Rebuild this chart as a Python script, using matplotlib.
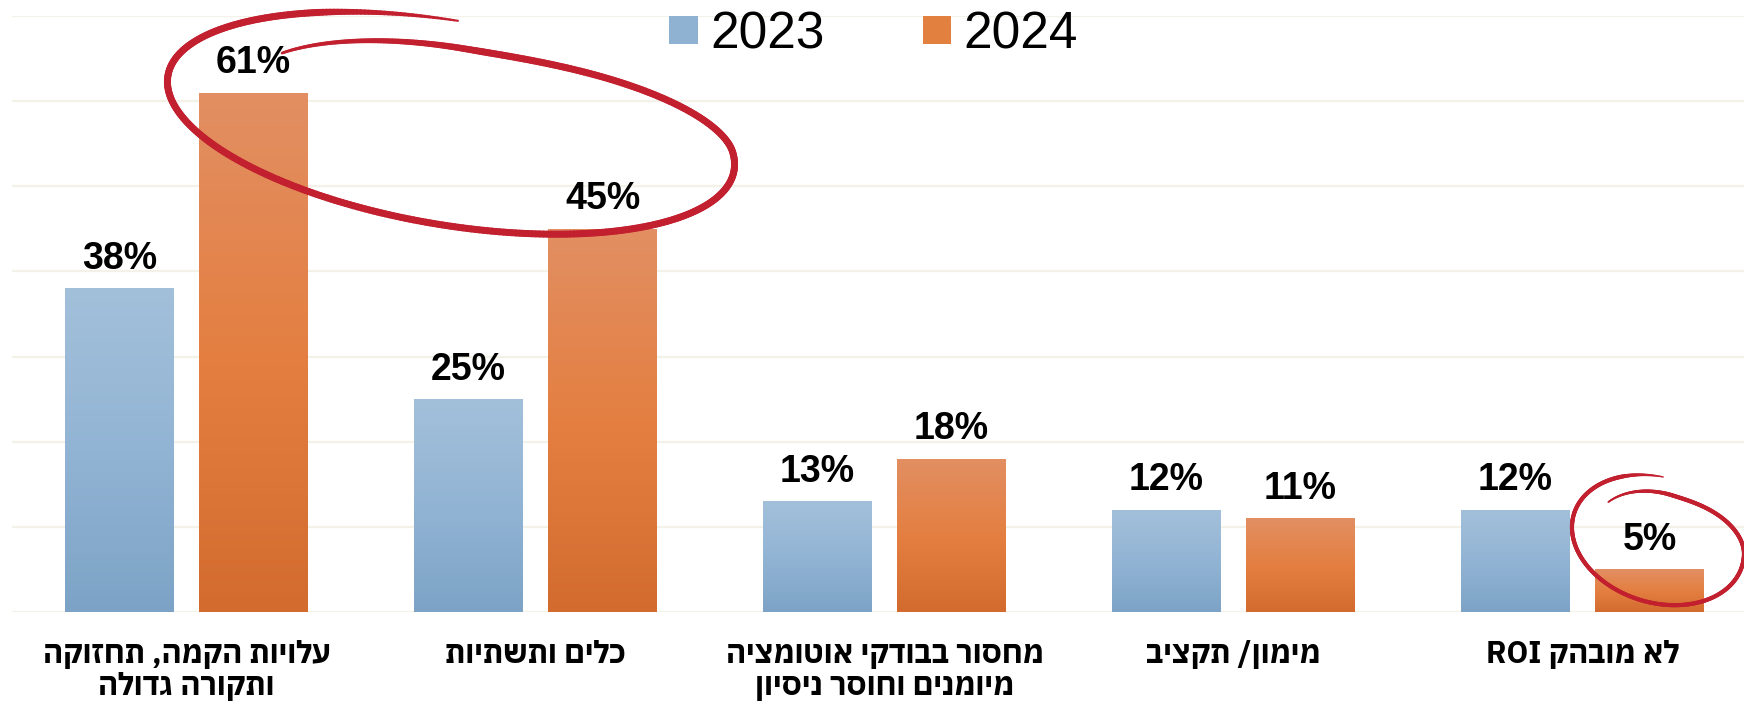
import re
import numpy as np
import matplotlib
matplotlib.use('Agg')
import matplotlib.pyplot as plt
from matplotlib.colors import LinearSegmentedColormap
from matplotlib.collections import LineCollection
from matplotlib.patches import Patch
from matplotlib.transforms import blended_transform_factory

# נתונים
categories = ['עלויות הקמה, תחזוקה\nותקורה גדולה',
              'כלים ותשתיות',
              'מחסור בבודקי אוטומציה\nמיומנים וחוסר ניסיון',
              'מימון/ תקציב',
              'לא מובהק ROI']
years = ['2023', '2024']
values_2023 = [38, 25, 13, 12, 12]
values_2024 = [61, 45, 18, 11, 5]

W, H = 1744, 706
FONT = ['Liberation Sans', 'DejaVu Sans']
HEB_FONT = ['IBM Plex Sans Hebrew', 'DejaVu Sans']


def visual(line):
    # matplotlib has no bidi: reverse hebrew, keep latin runs in order
    r = line[::-1]
    return re.sub(r'[A-Za-z0-9]+', lambda m: m.group(0)[::-1], r)


fig = plt.figure(figsize=(W / 100, H / 100), dpi=100)
ax = fig.add_axes([12 / W, 94 / H, 1745 / W, (612 - 16) / H])

x = np.arange(len(categories))
bw = 0.312
off = 0.192

blue_cmap = LinearSegmentedColormap.from_list('b', ['#7ca3c6', '#92b4d4', '#a3c0da'])
orange_cmap = LinearSegmentedColormap.from_list('o', ['#d36b2f', '#e47f41', '#e28f63'])
grad = np.linspace(0, 1, 256).reshape(-1, 1)

b1 = ax.bar(x - off, values_2023, bw, color='none', zorder=3)
b2 = ax.bar(x + off, values_2024, bw, color='none', zorder=3)
for bars, cmap in ((b1, blue_cmap), (b2, orange_cmap)):
    for rect in bars:
        x0, y0 = rect.get_x(), rect.get_y()
        im = ax.imshow(grad, cmap=cmap, origin='lower', aspect='auto', zorder=2,
                       extent=[x0, x0 + rect.get_width(), y0, y0 + rect.get_height()])
        im.set_clip_path(rect)

for bars, vals in ((b1, values_2023), (b2, values_2024)):
    for rect, v in zip(bars, vals):
        ax.annotate(f'{v}%', (rect.get_x() + rect.get_width() / 2, v),
                    xytext=(0, 14), textcoords='offset points',
                    ha='center', va='baseline', fontsize=27, fontweight='bold',
                    family=FONT, zorder=5)

ax.set_xlim(-0.5, len(categories) - 0.5)
ax.set_ylim(0, 70)
ax.set_yticks(range(0, 71, 10))
ax.yaxis.grid(True, color='#f3f1e8', linewidth=1.6, zorder=0)
ax.set_axisbelow(True)
ax.tick_params(left=False, bottom=False, labelleft=False, labelbottom=False)
for s in ax.spines.values():
    s.set_visible(False)

# category labels, one text per line
trans = blended_transform_factory(ax.transData, fig.transFigure)
for xi, c in zip(x, categories):
    for i, line in enumerate(c.split('\n')):
        ax.text(xi, 1 - (663 + 32 * i) / H, visual(line), transform=trans,
                ha='center', va='baseline', fontsize=22, fontweight='bold',
                family=HEB_FONT)

handles = [Patch(facecolor='#8fb2d3'), Patch(facecolor='#e2803f')]
ax.legend(handles, years, loc='center', bbox_to_anchor=(0.501, 1 - 35 / H),
          bbox_transform=fig.transFigure, ncol=2, frameon=False,
          prop={'family': FONT, 'size': 37}, handlelength=0.55, handleheight=0.455,
          handletextpad=0.25, columnspacing=1.9, borderpad=0)


def scribble(cx, cy, a, b, phi, t0, t1, s_end, lw):
    t = np.radians(np.linspace(t0, t1, 500))
    r = np.clip((t - np.radians(370)) / np.radians(80), 0, 1)
    s = 1 - (1 - s_end) * r * r * (3 - 2 * r)
    u, v = a * s * np.cos(t), b * s * np.sin(t)
    p = np.radians(-phi)
    px = cx + u * np.cos(p) - v * np.sin(p)
    py = cy - (u * np.sin(p) + v * np.cos(p))
    pts = np.column_stack([px / W, 1 - py / H])
    segs = np.stack([pts[:-1], pts[1:]], axis=1)
    k = np.linspace(0, 1, len(segs))
    w = lw * np.clip(np.minimum(0.3 + k / 0.1, 0.4 + (1 - k) / 0.25), 0, 1)
    lc = LineCollection(segs, linewidths=w, colors='#c21f2f', capstyle='round',
                        transform=fig.transFigure, zorder=10)
    fig.add_artist(lc)


scribble(451, 123, 287, 102, 9.5, 92, 507, 0.74, 5.0)
scribble(1658, 540, 88, 62.5, 17.4, 99, 513, 0.75, 3.0)

fig.savefig('out.png', dpi=100, facecolor='white')
